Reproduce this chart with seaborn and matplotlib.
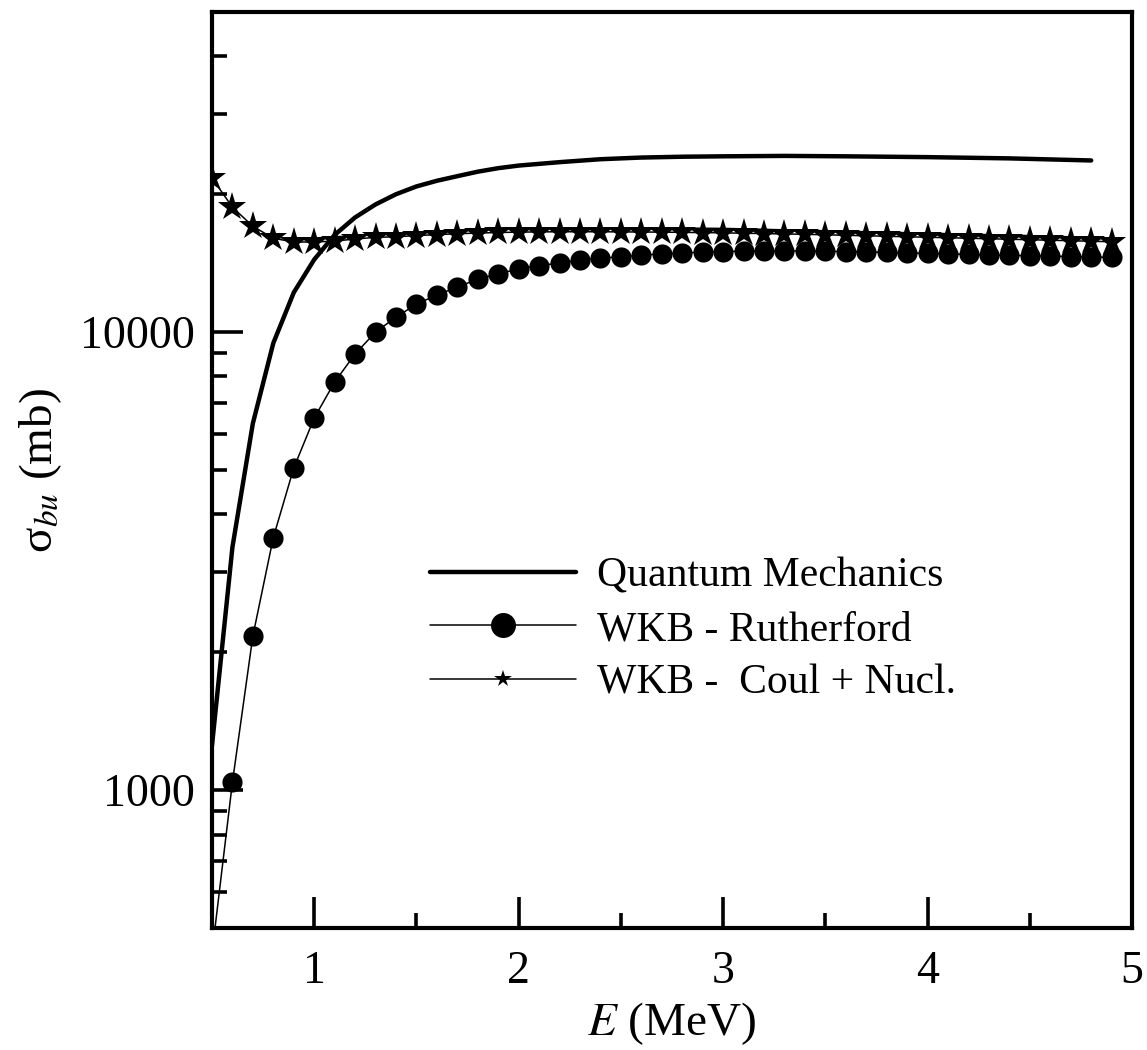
import matplotlib
matplotlib.use("Agg")
import matplotlib.pyplot as plt
import seaborn as sns
from matplotlib.lines import Line2D
from matplotlib.ticker import FixedLocator, MultipleLocator, NullFormatter, FuncFormatter


# Data
qm_e = [0.5, 0.6, 0.7, 0.8, 0.9, 1.0, 1.1, 1.2, 1.3, 1.4, 1.5, 1.6, 1.7, 1.8, 1.9,
        2.0, 2.2, 2.4, 2.6, 2.8, 3.0, 3.3, 3.6, 4.0, 4.4, 4.8]
qm_sigma = [1250, 3390, 6320, 9460, 12200, 14400, 16300, 17800, 19000, 20000, 20800,
            21400, 21900, 22400, 22800, 23100, 23500, 23850, 24050, 24150, 24200,
            24250, 24200, 24100, 23950, 23700]

wkb_e = [round(0.5 + 0.1 * i, 1) for i in range(45)]
ruth_sigma = [440, 1040, 2170, 3560, 5050, 6490, 7780, 8960, 10000, 10780,
              11510, 12050, 12540, 13050, 13400, 13750, 13970, 14150, 14360, 14510,
              14600, 14730, 14810, 14880, 14950, 14980, 15030, 15040, 15040, 15030,
              15010, 14990, 14960, 14930, 14890, 14850, 14810, 14780, 14740, 14710,
              14680, 14650, 14620, 14590, 14560]
coul_nucl_sigma = [21700, 18740, 17020, 16030, 15730, 15730, 15800, 15970, 16100, 16150,
                   16250, 16320, 16400, 16450, 16500, 16530, 16550, 16560, 16560, 16560,
                   16550, 16540, 16530, 16510, 16490, 16470, 16440, 16410, 16380, 16350,
                   16310, 16270, 16230, 16190, 16150, 16110, 16070, 16030, 15990, 15950,
                   15910, 15870, 15830, 15790, 15750]

# thin companion curve drawn along the star series
extra_e = [0.8, 0.9, 1.0, 1.5, 2.0, 2.5, 3.0, 3.5, 4.0, 4.5, 4.9]
extra_sigma = [16100, 16000, 16050, 16550, 16850, 16900, 16850, 16650, 16450, 16250, 16050]

sns.set_style("ticks")
plt.rcParams["font.family"] = ["Liberation Serif", "DejaVu Serif"]
plt.rcParams["mathtext.fontset"] = "stix"
plt.rcParams["text.color"] = "black"
plt.rcParams["axes.labelcolor"] = "black"
plt.rcParams["xtick.color"] = "black"
plt.rcParams["ytick.color"] = "black"

fig = plt.figure(figsize=(11.47, 10.5), dpi=100)
ax = fig.add_axes([0.1848, 0.1162, 0.8022, 0.8724])

sns.lineplot(x=qm_e, y=qm_sigma, color="black", linewidth=3.2, ax=ax)
sns.lineplot(x=extra_e, y=extra_sigma, color="black", linewidth=1.0, ax=ax)
sns.lineplot(x=wkb_e, y=ruth_sigma, color="black", linewidth=1.1,
             marker="o", markersize=14.5, markeredgewidth=0, ax=ax)
sns.lineplot(x=wkb_e, y=coul_nucl_sigma, color="black", linewidth=1.1,
             marker="*", markersize=21, markeredgewidth=0, ax=ax)

ax.set_yscale("log")
ax.set_xlim(0.5, 5)
ax.set_ylim(500, 50000)

ax.xaxis.set_major_locator(FixedLocator([1, 2, 3, 4, 5]))
ax.xaxis.set_minor_locator(MultipleLocator(0.5))
ax.yaxis.set_major_locator(FixedLocator([1000, 10000]))
ax.yaxis.set_minor_locator(FixedLocator([600, 700, 800, 900,
                                         2000, 3000, 4000, 5000, 6000, 7000, 8000, 9000,
                                         20000, 30000, 40000]))
ax.yaxis.set_major_formatter(FuncFormatter(lambda v, p: f"{int(v)}"))
ax.yaxis.set_minor_formatter(NullFormatter())

ax.tick_params(which="both", direction="in", width=2.6, labelsize=33,
               top=False, right=False, colors="black")
ax.tick_params(which="major", length=22)
ax.tick_params(which="minor", length=11)
ax.tick_params(axis="x", which="major", pad=16)
ax.tick_params(axis="y", which="major", pad=12)

for side in ax.spines.values():
    side.set_linewidth(3)
    side.set_color("black")

ax.set_xlabel("$E$ (MeV)", fontsize=34, labelpad=5, color="black")
ax.set_ylabel("σ$_{bu}$ (mb)", fontsize=34, labelpad=12, color="black")

handles = [
    Line2D([], [], color="black", linewidth=3.2),
    Line2D([], [], color="black", linewidth=1.1, marker="o", markersize=18, markeredgewidth=0),
    Line2D([], [], color="black", linewidth=1.1, marker="*", markersize=13, markeredgewidth=0),
]
labels = ["Quantum Mechanics", "WKB - Rutherford", "WKB -  Coul + Nucl."]
leg = ax.legend(handles, labels, loc="upper left", bbox_to_anchor=(0.237, 0.405),
                frameon=False, fontsize=30, handlelength=3.5, handletextpad=0.5,
                labelspacing=0.36, borderpad=0, borderaxespad=0)
for t in leg.get_texts():
    t.set_color("black")

plt.savefig("out.png", dpi=100)
plt.close()
